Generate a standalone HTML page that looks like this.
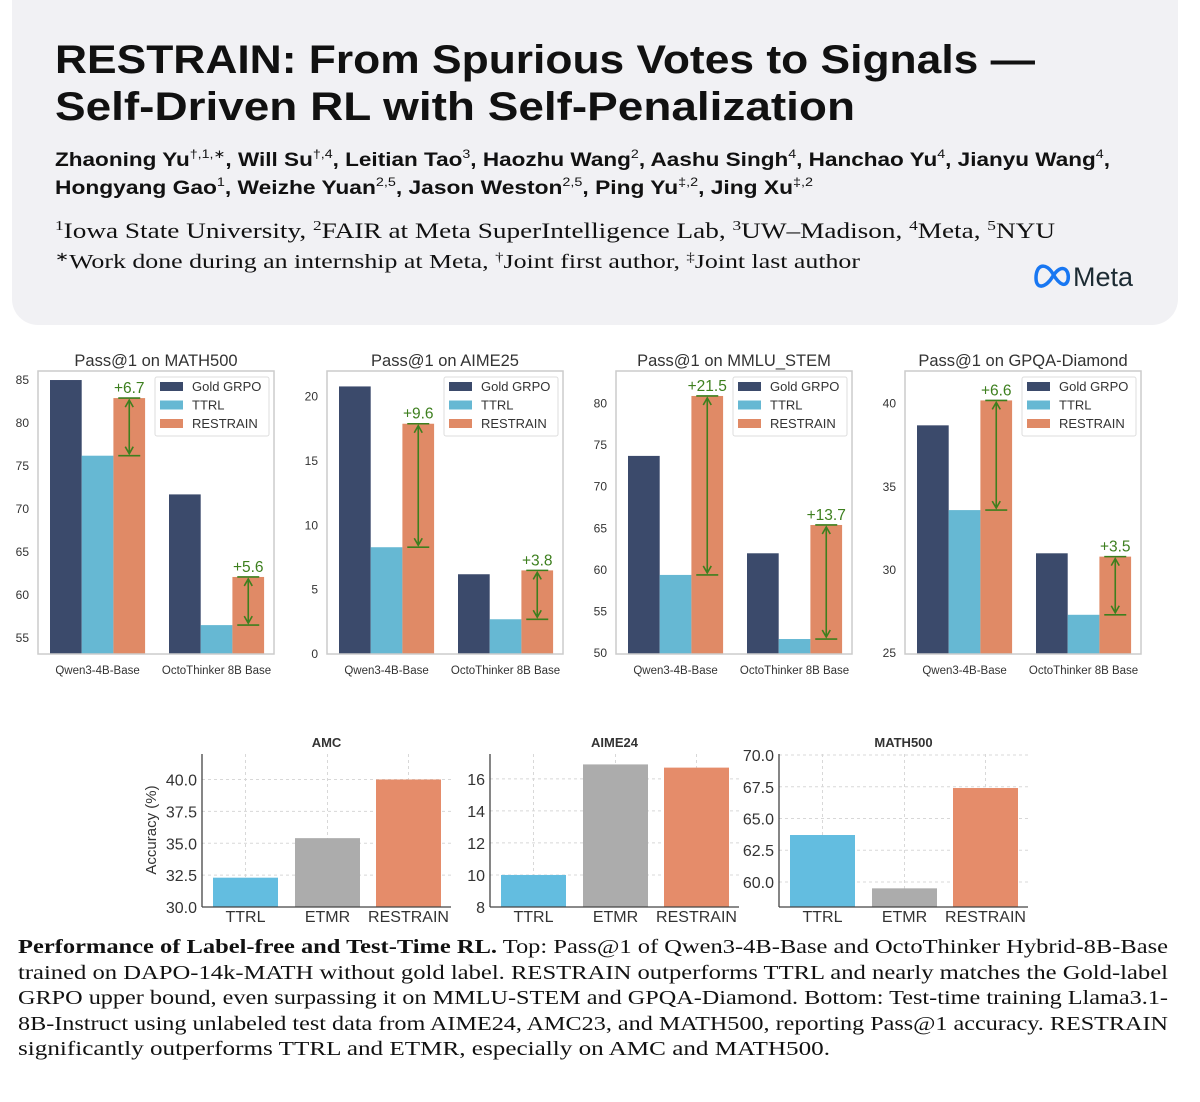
<!DOCTYPE html>
<html><head><meta charset="utf-8">
<style>
html,body{margin:0;padding:0;background:#fff;}
svg{display:block;}
.sans{font-family:"Liberation Sans",sans-serif;}
.narrow{font-family:"Liberation Sans Narrow","Liberation Sans",sans-serif;}
.serif{font-family:"Liberation Serif",serif;}
</style></head>
<body>
<svg id="page" width="1200" height="1102" viewBox="0 0 1200 1102" xmlns="http://www.w3.org/2000/svg">
  <rect x="12" y="-30" width="1166" height="355" rx="26" fill="#f1f1f4"/>
  <g class="sans" font-weight="bold" fill="#111">
    <text x="55" y="73" font-size="40" textLength="980" lengthAdjust="spacingAndGlyphs">RESTRAIN: From Spurious Votes to Signals —</text>
    <text x="55" y="120" font-size="40" textLength="800" lengthAdjust="spacingAndGlyphs">Self-Driven RL with Self-Penalization</text>
  </g>
  <g class="sans" font-weight="bold" fill="#111" font-size="19">
    <text x="55" y="166" textLength="1055" lengthAdjust="spacingAndGlyphs">Zhaoning Yu<tspan font-size="12" dy="-8" font-weight="normal">†,1,∗</tspan><tspan dy="8">, Will Su</tspan><tspan font-size="12" dy="-8" font-weight="normal">†,4</tspan><tspan dy="8">, Leitian Tao</tspan><tspan font-size="12" dy="-8" font-weight="normal">3</tspan><tspan dy="8">, Haozhu Wang</tspan><tspan font-size="12" dy="-8" font-weight="normal">2</tspan><tspan dy="8">, Aashu Singh</tspan><tspan font-size="12" dy="-8" font-weight="normal">4</tspan><tspan dy="8">, Hanchao Yu</tspan><tspan font-size="12" dy="-8" font-weight="normal">4</tspan><tspan dy="8">, Jianyu Wang</tspan><tspan font-size="12" dy="-8" font-weight="normal">4</tspan><tspan dy="8">,</tspan></text>
    <text x="55" y="194" textLength="758" lengthAdjust="spacingAndGlyphs">Hongyang Gao<tspan font-size="12" dy="-8" font-weight="normal">1</tspan><tspan dy="8">, Weizhe Yuan</tspan><tspan font-size="12" dy="-8" font-weight="normal">2,5</tspan><tspan dy="8">, Jason Weston</tspan><tspan font-size="12" dy="-8" font-weight="normal">2,5</tspan><tspan dy="8">, Ping Yu</tspan><tspan font-size="12" dy="-8" font-weight="normal">‡,2</tspan><tspan dy="8">, Jing Xu</tspan><tspan font-size="12" dy="-8" font-weight="normal">‡,2</tspan></text>
  </g>
  <g class="serif" fill="#111">
    <text x="55" y="238" font-size="22" textLength="1000" lengthAdjust="spacingAndGlyphs"><tspan font-size="14" dy="-8">1</tspan><tspan dy="8">Iowa State University, </tspan><tspan font-size="14" dy="-8">2</tspan><tspan dy="8">FAIR at Meta SuperIntelligence Lab, </tspan><tspan font-size="14" dy="-8">3</tspan><tspan dy="8">UW–Madison, </tspan><tspan font-size="14" dy="-8">4</tspan><tspan dy="8">Meta, </tspan><tspan font-size="14" dy="-8">5</tspan><tspan dy="8">NYU</tspan></text>
    <text x="55" y="268" font-size="20" textLength="805" lengthAdjust="spacingAndGlyphs"><tspan font-size="13" dy="-7">∗</tspan><tspan dy="7">Work done during an internship at Meta, </tspan><tspan font-size="13" dy="-7">†</tspan><tspan dy="7">Joint first author, </tspan><tspan font-size="13" dy="-7">‡</tspan><tspan dy="7">Joint last author</tspan></text>
  </g>
  <g>
    <path d="M1036 278 C1036 264 1046 262 1053 274 C1060 286 1066 287 1068 280 C1070 270 1062 262 1053 276 C1046 288 1036 290 1036 278 Z" fill="none" stroke="#1877f2" stroke-width="3.5"/>
    <text class="sans" x="1073" y="286" font-size="27" fill="#1c2b33">Meta</text>
  </g>
  <g id="top-charts"></g>
  <g id="bottom-charts"></g>
  <g class="serif" fill="#111" font-size="20">
    <text x="18" y="953" textLength="1150" lengthAdjust="spacingAndGlyphs"><tspan font-weight="bold">Performance of Label-free and Test-Time RL.</tspan> Top: Pass@1 of Qwen3-4B-Base and OctoThinker Hybrid-8B-Base</text>
    <text x="18" y="979" textLength="1150" lengthAdjust="spacingAndGlyphs">trained on DAPO-14k-MATH without gold label. RESTRAIN outperforms TTRL and nearly matches the Gold-label</text>
    <text x="18" y="1004" textLength="1150" lengthAdjust="spacingAndGlyphs">GRPO upper bound, even surpassing it on MMLU-STEM and GPQA-Diamond. Bottom: Test-time training Llama3.1-</text>
    <text x="18" y="1030" textLength="1150" lengthAdjust="spacingAndGlyphs">8B-Instruct using unlabeled test data from AIME24, AMC23, and MATH500, reporting Pass@1 accuracy. RESTRAIN</text>
    <text x="18" y="1055" textLength="812" lengthAdjust="spacingAndGlyphs">significantly outperforms TTRL and ETMR, especially on AMC and MATH500.</text>
  </g>
</svg>
<script>
// ---- Top chart data ----
const topTitles = ["Pass@1 on MATH500", "Pass@1 on AIME25", "Pass@1 on MMLU_STEM", "Pass@1 on GPQA-Diamond"];
const topGroups = ["Qwen3-4B-Base", "OctoThinker 8B Base"];
const topSeries = ["Gold GRPO", "TTRL", "RESTRAIN"];
const goldGRPO = [[85.0, 71.7], [20.8, 6.2], [73.7, 62.0], [38.7, 31.0]];
const ttrl = [[76.2, 56.5], [8.3, 2.7], [59.4, 51.7], [33.6, 27.3]];
const restrain = [[82.9, 62.1], [17.9, 6.5], [80.9, 65.4], [40.2, 30.8]];
const gainLabels = [["+6.7", "+5.6"], ["+9.6", "+3.8"], ["+21.5", "+13.7"], ["+6.6", "+3.5"]];
const topDomains = [[53.14, 86.05], [0, 22.0], [49.9, 83.9], [24.94, 41.97]];
const topTicks = [[55, 60, 65, 70, 75, 80, 85], [0, 5, 10, 15, 20], [50, 55, 60, 65, 70, 75, 80], [25, 30, 35, 40]];

// ---- Bottom chart data ----
const botTitles = ["AMC", "AIME24", "MATH500"];
const botCategories = ["TTRL", "ETMR", "RESTRAIN"];
const botValues = [[32.3, 35.4, 40.0], [10.0, 16.9, 16.7], [63.7, 59.5, 67.4]];
const botDomains = [[30, 42.0], [8, 17.55], [58.03, 70.08]];
const botTicks = [[30, 32.5, 35, 37.5, 40], [8, 10, 12, 14, 16], [60, 62.5, 65, 67.5, 70]];
const botTickLabels = [["30.0", "32.5", "35.0", "37.5", "40.0"], ["8", "10", "12", "14", "16"], ["60.0", "62.5", "65.0", "67.5", "70.0"]];

const NS = "http://www.w3.org/2000/svg";
function mk(tag, attrs, parent, text) {
  const e = document.createElementNS(NS, tag);
  for (const k in attrs) e.setAttribute(k, attrs[k]);
  if (text !== undefined) e.textContent = text;
  parent.appendChild(e);
  return e;
}
function scale(d, r0, r1) { return v => r0 + (v - d[0]) / (d[1] - d[0]) * (r1 - r0); }

const topColors = ["#3b4a6b", "#66b8d3", "#e08a66"];
const green = "#3d7f1e";
const topG = document.getElementById("top-charts");
const frameX = [38, 327, 616, 905];
const FW = 236, FT = 371, FB = 654, BW = 31.7;
const groupOff = [12, 131];

for (let c = 0; c < 4; c++) {
  const g = mk("g", {}, topG);
  
  
  const x0 = frameX[c];
  const y = scale(topDomains[c], FB, FT);
  const t = mk("text", { x: x0 + FW / 2, y: 366, "text-anchor": "middle", "font-size": 16.5, fill: "#333", class: "sans" }, g, topTitles[c]);
  
  
  topTicks[c].forEach(v => {
    const tl = mk("text", { x: x0 - 9, y: y(v) + 4, "text-anchor": "end", "font-size": 12, fill: "#333", class: "sans" }, g, String(v));
    
    
  });
  const series = [goldGRPO[c], ttrl[c], restrain[c]];
  for (let gi = 0; gi < 2; gi++) {
    for (let s = 0; s < 3; s++) {
      const bx = x0 + groupOff[gi] + s * BW;
      const v = series[s][gi];
      const r = mk("rect", { x: bx, y: y(v), width: BW, height: FB - y(v), fill: topColors[s] }, g);
      
      
    }
    const cx = x0 + groupOff[gi] + 2.5 * BW;
    const yTop = y(restrain[c][gi]), yBot = y(ttrl[c][gi]);
    const ag = mk("g", { stroke: green, "stroke-width": 1.6, fill: "none" }, g);
    
    
    mk("line", { x1: cx - 11, x2: cx + 11, y1: yTop, y2: yTop }, ag);
    mk("line", { x1: cx - 11, x2: cx + 11, y1: yBot, y2: yBot }, ag);
    mk("line", { x1: cx, x2: cx, y1: yTop + 2, y2: yBot - 2 }, ag);
    mk("polyline", { points: `${cx - 4},${yTop + 9} ${cx},${yTop + 2} ${cx + 4},${yTop + 9}` }, ag);
    mk("polyline", { points: `${cx - 4},${yBot - 9} ${cx},${yBot - 2} ${cx + 4},${yBot - 9}` }, ag);
    const gl = mk("text", { x: cx, y: yTop - 5, "text-anchor": "middle", "font-size": 15.5, fill: green, class: "sans" }, g, gainLabels[c][gi]);
    
    
    const xl = mk("text", { x: x0 + groupOff[gi] + 1.5 * BW, y: 674, "text-anchor": "middle", "font-size": 11.5, fill: "#333", class: "sans" }, g, topGroups[gi]);
    
    
  }
  const fr = mk("rect", { x: x0, y: FT, width: FW, height: FB - FT, fill: "none", stroke: "#ccc", "stroke-width": 1.5 }, g);
  
  
  const lg = mk("g", {}, g);
  
  
  const lx = x0 + FW - 119;
  mk("rect", { x: lx, y: 377, width: 114, height: 59, fill: "#fff", stroke: "#ddd", rx: 2 }, lg);
  topSeries.forEach((s, i) => {
    const e = mk("g", {}, lg);
    
    
    mk("rect", { x: lx + 5, y: 382 + i * 18.5, width: 23, height: 9, fill: topColors[i] }, e);
    mk("text", { x: lx + 37, y: 391 + i * 18.5, "font-size": 13, fill: "#333", class: "sans" }, e, s);
  });
}

// ---- Bottom charts ----
const botColors = ["#63bde0", "#acacac", "#e58c6a"];
const botG = document.getElementById("bottom-charts");
const axX = [202, 490, 779];
const AW = 249, AT = 754, AB = 907, BBW = 65;
const barOff = [11, 93, 174];
for (let c = 0; c < 3; c++) {
  const g = mk("g", {}, botG);
  
  
  const x0 = axX[c];
  const y = scale(botDomains[c], AB, AT);
  botTicks[c].forEach((v, i) => {
    mk("line", { x1: x0, x2: x0 + AW, y1: y(v), y2: y(v), stroke: "#d8d8d8", "stroke-dasharray": "3,3", "stroke-width": 1 }, g);
    const tl = mk("text", { x: x0 - 5, y: y(v) + 6, "text-anchor": "end", "font-size": 16, fill: "#333", class: "narrow" }, g, botTickLabels[c][i]);
    
    
  });
  botCategories.forEach((cat, i) => {
    const cx = x0 + barOff[i] + BBW / 2;
    mk("line", { x1: cx, x2: cx, y1: AT, y2: AB, stroke: "#d8d8d8", "stroke-dasharray": "3,3" }, g);
  });
  botCategories.forEach((cat, i) => {
    const v = botValues[c][i];
    const r = mk("rect", { x: x0 + barOff[i], y: y(v), width: BBW, height: AB - y(v), fill: botColors[i] }, g);
    
    
    const xl = mk("text", { x: x0 + barOff[i] + BBW / 2, y: 922, "text-anchor": "middle", "font-size": 16, fill: "#333", class: "narrow" }, g, cat);
    
    
  });
  mk("line", { x1: x0, x2: x0, y1: AT, y2: AB, stroke: "#444", "stroke-width": 1.3 }, g);
  mk("line", { x1: x0, x2: x0 + AW, y1: AB, y2: AB, stroke: "#444", "stroke-width": 1.3 }, g);
  const t = mk("text", { x: x0 + AW / 2, y: 747, "text-anchor": "middle", "font-size": 13, "font-weight": "bold", fill: "#333", class: "sans" }, g, botTitles[c]);
  
  
}
const yl = mk("text", { x: 0, y: 0, "text-anchor": "middle", "font-size": 15, fill: "#333", class: "sans", transform: "translate(156,830) rotate(-90)" }, botG, "Accuracy (%)");


</script>
</body></html>
